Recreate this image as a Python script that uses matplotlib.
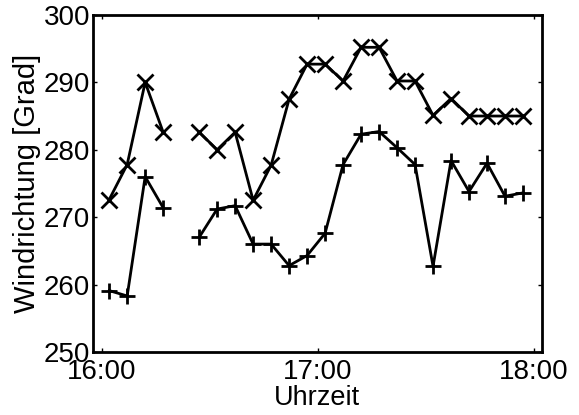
import numpy as np
import matplotlib.pyplot as plt

plt.rcParams['font.family'] = ['Liberation Sans', 'DejaVu Sans']

times = ["16:02", "16:07", "16:12", "16:17", "16:22", "16:27", "16:32", "16:37",
         "16:42", "16:47", "16:52", "16:57", "17:02", "17:07", "17:12", "17:17",
         "17:22", "17:27", "17:32", "17:37", "17:42", "17:47", "17:52", "17:57"]
# nan = no measurement (gap in the line)
dir_x = [272.6, 277.8, 290.0, 282.6, np.nan, 282.6, 280.0, 282.6,
         272.5, 277.7, 287.5, 292.7, 292.7, 290.2, 295.2, 295.2,
         290.2, 290.2, 285.1, 287.6, 285.0, 285.0, 285.0, 285.0]
dir_plus = [259.1, 258.3, 276.0, 271.4, np.nan, 267.0, 271.2, 271.7,
            266.0, 266.0, 262.8, 264.3, 267.6, 277.8, 282.3, 282.7,
            280.3, 277.8, 262.7, 278.4, 273.8, 278.0, 273.1, 273.6]
tick_labels = ["16:00", "17:00", "18:00"]
y_ticks = [250, 260, 270, 280, 290, 300]


def to_minutes(t):
    h, m = t.split(":")
    return (int(h) - 16) * 60 + int(m)


x = np.array([to_minutes(t) for t in times])
tick_pos = [to_minutes(t) for t in tick_labels]

fig = plt.figure(figsize=(5.79, 4.15), dpi=100)
ax = fig.add_axes([0.1606, 0.152, 0.775, 0.812])

ax.plot(x, dir_x, color="black", lw=2, marker="x", ms=11, mew=2)
ax.plot(x, dir_plus, color="black", lw=2, marker="+", ms=12, mew=2)

ax.set_xlim(-2.5, 122.2)
ax.set_ylim(250, 300)
ax.set_xticks(tick_pos)
ax.set_xticklabels(tick_labels)
ax.set_yticks(y_ticks)

ax.tick_params(direction="in", length=3, width=1, labelsize=20,
               top=True, right=True, pad=2)
ax.tick_params(axis="x", pad=5)
for s in ax.spines.values():
    s.set_linewidth(2)

ax.set_xlabel("Uhrzeit", fontsize=19.5, labelpad=0)
ax.set_ylabel("Windrichtung [Grad]", fontsize=21, labelpad=2)

fig.savefig("out.png", dpi=100)
